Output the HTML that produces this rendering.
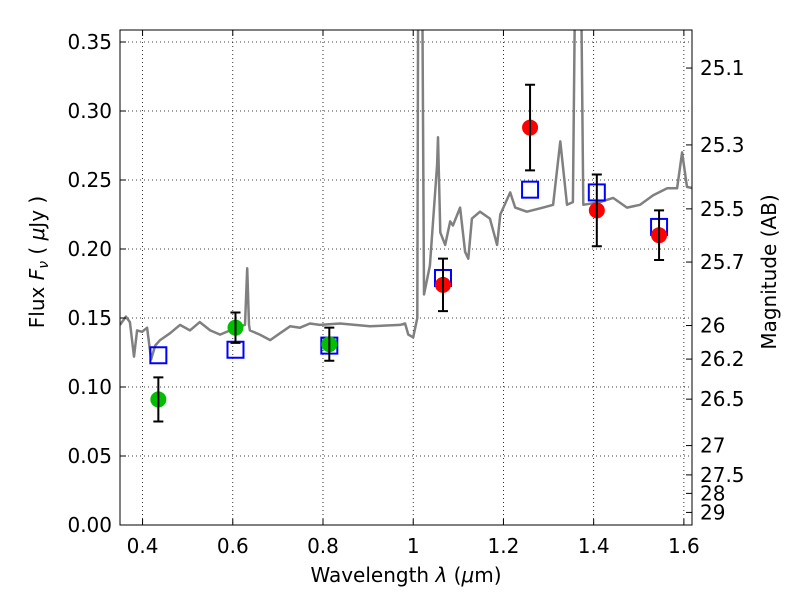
<!DOCTYPE html>
<html><head><meta charset="utf-8"><style>
body{margin:0;background:#fff}
svg text{font-family:"DejaVu Sans","Liberation Sans",sans-serif;fill:#000}
</style></head><body>
<svg id="chart" width="800" height="600" viewBox="0 0 800 600">
<defs><clipPath id="pc"><rect x="120" y="30" width="572" height="495"/></clipPath></defs>
<rect x="0" y="0" width="800" height="600" fill="#fff"/>
<g id="grid"></g>
<g id="spec" clip-path="url(#pc)"></g>
<g id="marks"></g>
<rect x="120" y="30" width="572" height="495" fill="none" stroke="#000" stroke-width="1"/>
<g id="axes"></g>
<text x="406" y="582" font-size="20" text-anchor="middle">Wavelength  <tspan font-style="italic">λ</tspan> (<tspan font-style="italic">μ</tspan>m)</text>
<text transform="translate(44,262) rotate(-90)" font-size="20" text-anchor="middle">Flux  <tspan font-style="italic">F</tspan><tspan font-style="italic" font-size="14" dy="4">ν</tspan><tspan dy="-4">  ( </tspan><tspan font-style="italic">μ</tspan>Jy )</text>
<text transform="translate(776,272) rotate(-90)" font-size="20" text-anchor="middle">Magnitude (AB)</text>
</svg>
<script>
const specLam=[0.350,0.363,0.372,0.381,0.388,0.399,0.410,0.419,0.428,0.439,0.461,0.483,0.505,0.527,0.550,0.572,0.594,0.616,0.627,0.632,0.636,0.638,0.660,0.683,0.705,0.727,0.749,0.771,0.793,0.838,0.904,0.971,0.982,0.989,1.000,1.009,1.011,1.020,1.024,1.037,1.053,1.055,1.060,1.071,1.082,1.088,1.104,1.115,1.122,1.130,1.148,1.170,1.186,1.193,1.215,1.226,1.252,1.288,1.310,1.326,1.341,1.354,1.359,1.372,1.377,1.414,1.443,1.474,1.503,1.532,1.563,1.585,1.596,1.607,1.620];
const specFlux=[0.145,0.151,0.147,0.122,0.141,0.140,0.143,0.120,0.130,0.134,0.139,0.145,0.141,0.147,0.141,0.138,0.141,0.144,0.145,0.186,0.145,0.141,0.138,0.134,0.139,0.144,0.143,0.146,0.145,0.146,0.144,0.145,0.146,0.138,0.136,0.150,0.40,0.40,0.167,0.188,0.261,0.281,0.212,0.203,0.220,0.217,0.230,0.198,0.193,0.222,0.227,0.222,0.203,0.225,0.241,0.230,0.227,0.230,0.232,0.278,0.232,0.234,0.40,0.40,0.232,0.234,0.237,0.230,0.232,0.239,0.244,0.244,0.270,0.245,0.244];
const greenLam=[0.435,0.606,0.814];
const greenFlux=[0.091,0.143,0.131];
const greenErr=[0.016,0.011,0.012];
const redLam=[1.066,1.259,1.407,1.545];
const redFlux=[0.174,0.288,0.228,0.210];
const redErr=[0.019,0.031,0.026,0.018];
const modelLam=[0.435,0.606,0.814,1.066,1.259,1.407,1.545];
const modelFlux=[0.123,0.127,0.130,0.179,0.243,0.241,0.216];
const xTicks=[0.4,0.6,0.8,1.0,1.2,1.4,1.6];
const xTickLabels=["0.4","0.6","0.8","1","1.2","1.4","1.6"];
const yTicks=[0,0.05,0.1,0.15,0.2,0.25,0.3,0.35];
const yTickLabels=["0.00","0.05","0.10","0.15","0.20","0.25","0.30","0.35"];
const magTicks=[25.1,25.3,25.5,25.7,26,26.2,26.5,27,27.5,28,29];
const magTickLabels=["25.1","25.3","25.5","25.7","26","26.2","26.5","27","27.5","28","29"];

const X0=120,X1=692,Y0=525,Y1=30,xmin=0.35,xmax=1.618,ymin=0,ymax=0.3587;
const sx=v=>X0+(v-xmin)/(xmax-xmin)*(X1-X0);
const sy=v=>Y0-(v-ymin)/(ymax-ymin)*(Y0-Y1);
const NS="http://www.w3.org/2000/svg";
function mk(parent,tag,attrs){const e=document.createElementNS(NS,tag);for(const k in attrs)e.setAttribute(k,attrs[k]);document.getElementById(parent).appendChild(e);return e;}

xTicks.forEach((t,i)=>{const x=sx(t);
 const g=mk('grid','line',{x1:x,x2:x,y1:Y1,y2:Y0,stroke:'#000','stroke-width':0.8,'stroke-dasharray':'1,3'});
 
 
 const tk=mk('axes','line',{x1:x,x2:x,y1:Y0,y2:Y0-6,stroke:'#000'});
 
 
 const tk2=mk('axes','line',{x1:x,x2:x,y1:Y1,y2:Y1+6,stroke:'#000'});
 
 
 const l=mk('axes','text',{x:x,y:553,'font-size':20,'text-anchor':'middle'});l.textContent=xTickLabels[i];
 
 
});
yTicks.forEach((t,i)=>{const y=sy(t);
 const g=mk('grid','line',{x1:X0,x2:X1,y1:y,y2:y,stroke:'#000','stroke-width':0.8,'stroke-dasharray':'1,3'});
 
 
 const tk=mk('axes','line',{x1:X0,x2:X0+6,y1:y,y2:y,stroke:'#000'});
 
 
 const l=mk('axes','text',{x:112,y:y+7,'font-size':20,'text-anchor':'end'});l.textContent=yTickLabels[i];
 
 
});
magTicks.forEach((m,i)=>{const f=Math.pow(10,(23.9-m)/2.5);const y=sy(f);
 const tk=mk('axes','line',{x1:X1,x2:X1-6,y1:y,y2:y,stroke:'#000'});
 
 
 const l=mk('axes','text',{x:700,y:y+7,'font-size':20,'text-anchor':'start'});l.textContent=magTickLabels[i];
 
 
});
let d=specLam.map((v,i)=>(i?'L':'M')+sx(v).toFixed(1)+','+sy(specFlux[i]).toFixed(1)).join('');
const sp=mk('spec','path',{d:d,fill:'none',stroke:'#808080','stroke-width':2.5,'stroke-linejoin':'round'});


modelLam.forEach((v,i)=>{const x=sx(v),y=sy(modelFlux[i]);
 const r=mk('marks','rect',{x:x-8,y:y-8,width:16,height:16,fill:'none',stroke:'#0000ff','stroke-width':2});
 
 
});
function pts(lam,fl,er,col,name){lam.forEach((v,i)=>{const x=sx(v),y=sy(fl[i]);
 const c=mk('marks','circle',{cx:x,cy:y,r:8,fill:col});
 
 
 const ya=sy(fl[i]+er[i]),yb=sy(fl[i]-er[i]);
 const e=mk('marks','path',{d:`M${x},${ya}L${x},${yb}M${x-5},${ya}L${x+5},${ya}M${x-5},${yb}L${x+5},${yb}`,stroke:'#000','stroke-width':2,fill:'none'});
 
 
});}
pts(greenLam,greenFlux,greenErr,'#00bf00','green-point');
pts(redLam,redFlux,redErr,'#ff0000','red-point');
</script>
</body></html>
